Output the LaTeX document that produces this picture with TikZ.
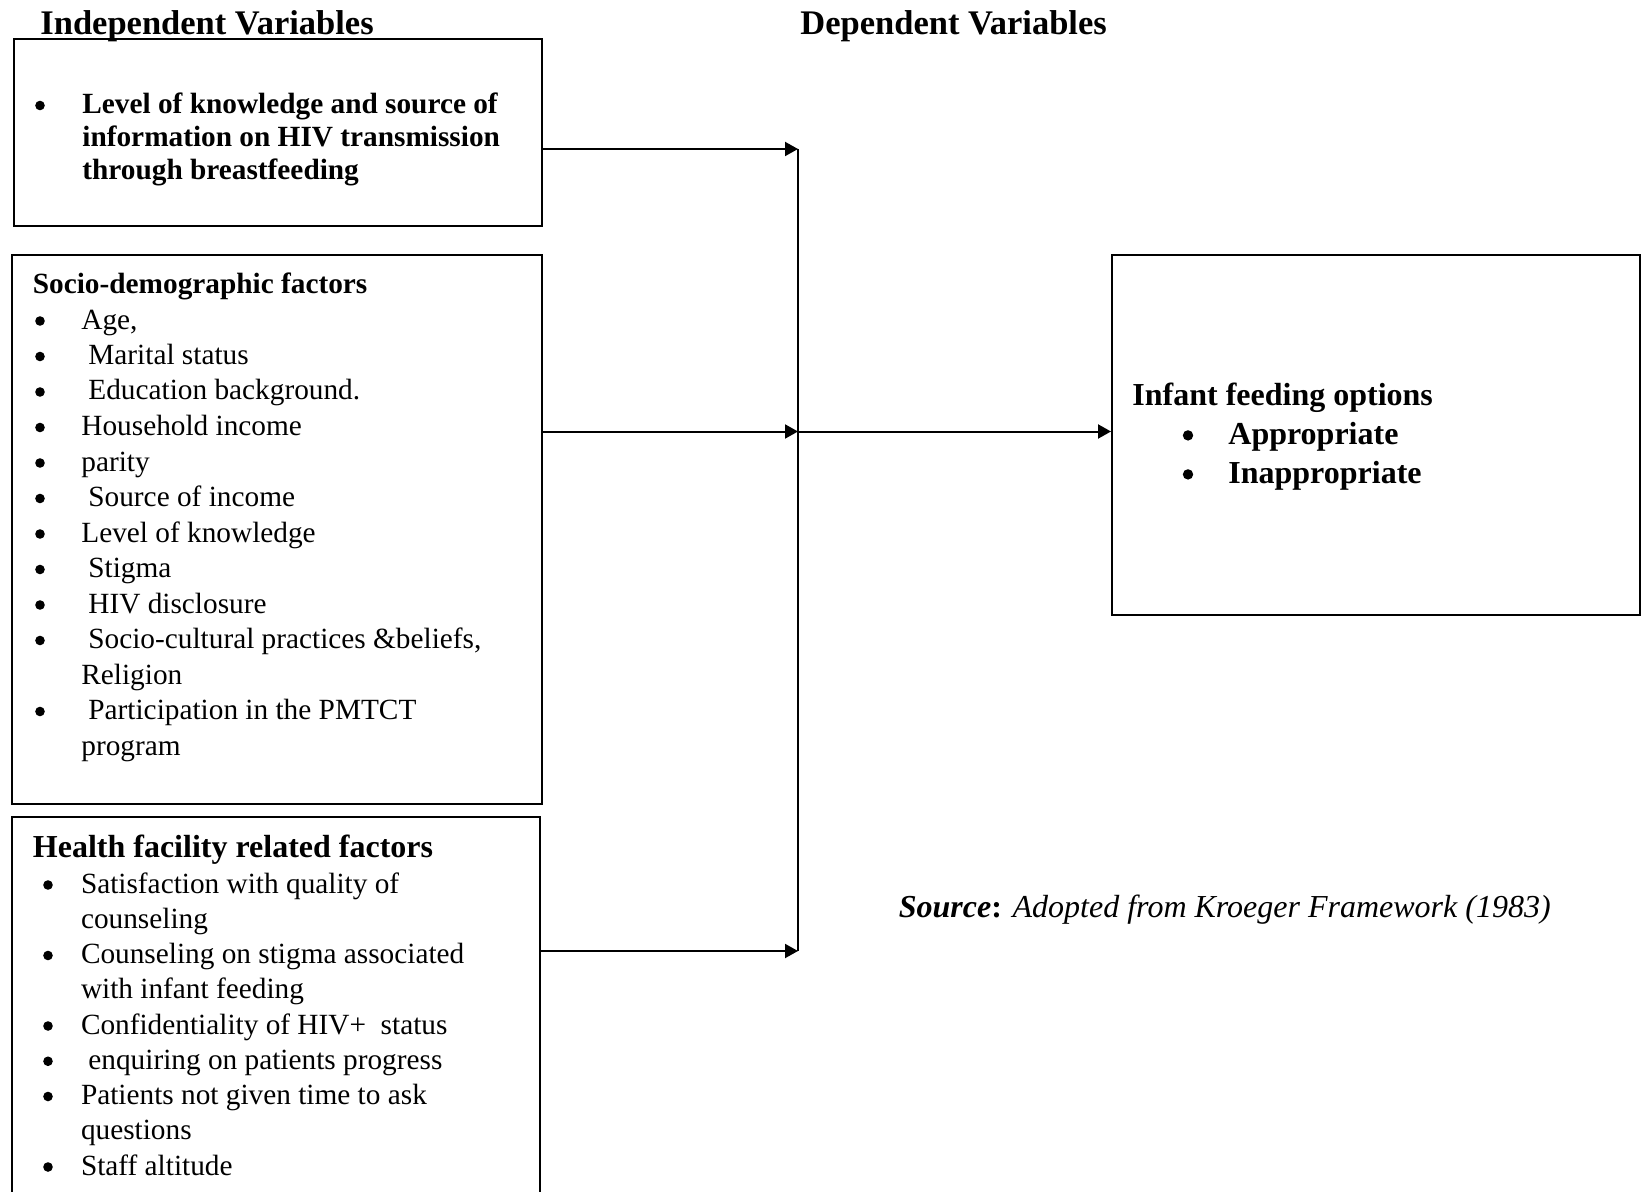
\documentclass[tikz,border=0pt]{standalone}
\usepackage{fontspec}
\setmainfont{Liberation Serif}
\usetikzlibrary{arrows.meta}
\begin{document}
\begin{tikzpicture}[x=0.5pt,y=-0.5pt,
  box/.style={draw, line width=1pt, inner sep=0pt},
  reg/.style={anchor=base west, inner sep=0pt, font=\fontsize{14.65}{17}\selectfont},
  bld/.style={anchor=base west, inner sep=0pt, font=\fontsize{14.65}{17}\selectfont\bfseries},
  bigb/.style={anchor=base west, inner sep=0pt, font=\fontsize{16}{19}\selectfont\bfseries},
  ttl/.style={anchor=base west, inner sep=0pt, font=\fontsize{17.25}{20}\selectfont\bfseries},
  srcstyle/.style={anchor=base west, inner sep=0pt, font=\fontsize{16}{19}\selectfont\itshape},
  bul/.style={circle, fill, inner sep=0pt, minimum size=4.8pt, yshift=4pt},
  bigbul/.style={circle, fill, inner sep=0pt, minimum size=5.2pt, yshift=4.3pt},
  arr/.style={line width=1pt, -{Triangle[length=6.5pt,width=7pt]}},
  ln/.style={line width=1pt}]
\useasboundingbox (0,0) rectangle (1642,1192);
\clip (0,0) rectangle (1642,1192);

% titles
\node[ttl] (tind) at (40,34.5) {Independent Variables};
\node[ttl] (tdep) at (800,34.5) {Dependent Variables};

% boxes
\node[box, minimum width=264pt, minimum height=93.5pt] (b1) at (277.5,133) {};
\node[box, minimum width=265pt, minimum height=274.5pt] (b2) at (276.5,529.5) {};
\node[box, minimum width=264pt, minimum height=200pt] (b3) at (275.5,1017) {};
\node[box, minimum width=264pt, minimum height=180pt] (R) at (1376,435) {};

% box 1 text
\node[bul] (b1bul) at (40,113.5) {};
\node[bld] (b1l1) at (82,113.5) {Level of knowledge and source of};
\node[bld] (b1l2) at (82,146.5) {information on HIV transmission};
\node[bld] (b1l3) at (82,179.5) {through breastfeeding};

% box 2 text
\node[bld] (s0) at (32.5,293.5) {Socio-demographic factors};
\node[bul] (sb1) at (40,329) {};
\node[reg] (s1) at (81,329) {Age,};
\node[bul] (sb2) at (40,364.5) {};
\node[reg] (s2) at (88,364.5) {Marital status};
\node[bul] (sb3) at (40,400) {};
\node[reg] (s3) at (88,400) {Education background.};
\node[bul] (sb4) at (40,435.5) {};
\node[reg] (s4) at (81,435.5) {Household income};
\node[bul] (sb5) at (40,471) {};
\node[reg] (s5) at (81,471) {parity};
\node[bul] (sb6) at (40,506.5) {};
\node[reg] (s6) at (88,506.5) {Source of income};
\node[bul] (sb7) at (40,542) {};
\node[reg] (s7) at (81,542) {Level of knowledge};
\node[bul] (sb8) at (40,577.5) {};
\node[reg] (s8) at (88,577.5) {Stigma};
\node[bul] (sb9) at (40,613) {};
\node[reg] (s9) at (88,613) {HIV disclosure};
\node[bul] (sb10) at (40,648.5) {};
\node[reg] (s10) at (88,648.5) {Socio-cultural practices \&beliefs,};
\node[reg] (s11) at (81,684) {Religion};
\node[bul] (sb12) at (40,719.5) {};
\node[reg] (s12) at (88,719.5) {Participation in the PMTCT};
\node[reg] (s13) at (81,755) {program};

% box 3 text
\node[bigb] (h0) at (32.5,857) {Health facility related factors};
\node[bul] (hb1) at (48,893) {};
\node[reg] (h1) at (80.6,893) {Satisfaction with quality of};
\node[reg] (h2) at (80.6,928.25) {counseling};
\node[bul] (hb3) at (48,963.5) {};
\node[reg] (h3) at (80.6,963.5) {Counseling on stigma associated};
\node[reg] (h4) at (80.6,998.75) {with infant feeding};
\node[bul] (hb5) at (48,1034) {};
\node[reg] (h5) at (80.6,1034) {Confidentiality of HIV+\ \ status};
\node[bul] (hb6) at (48,1069.25) {};
\node[reg] (h6) at (88,1069.25) {enquiring on patients progress};
\node[bul] (hb7) at (48,1104.5) {};
\node[reg] (h7) at (80.6,1104.5) {Patients not given time to ask};
\node[reg] (h8) at (80.6,1139.75) {questions};
\node[bul] (hb9) at (48,1175) {};
\node[reg] (h9) at (80.6,1175) {Staff altitude};

% right box text
\node[bigb] (r0) at (1132,405) {Infant feeding options};
\node[bigbul] (rb1) at (1188,444) {};
\node[bigb] (r1) at (1228,444) {Appropriate};
\node[bigbul] (rb2) at (1188,483) {};
\node[bigb] (r2) at (1228,483) {Inappropriate};

% source
\node[srcstyle] (src) at (898.5,917) {{\bfseries Source}{\bfseries\upshape :} Adopted from Kroeger Framework (1983)};

% connectors
\coordinate (j1) at (798,149);
\coordinate (j2) at (798,431.5);
\coordinate (j3) at (798,951);
\draw[ln] (j1) -- (j3);
\draw[arr] (b1.east |- j1) -- (j1);
\draw[arr] (b2.east |- j2) -- (j2);
\draw[arr] (b3.east |- j3) -- (j3);
\draw[arr] (j2) -- (R.west |- j2);
\end{tikzpicture}
\end{document}
